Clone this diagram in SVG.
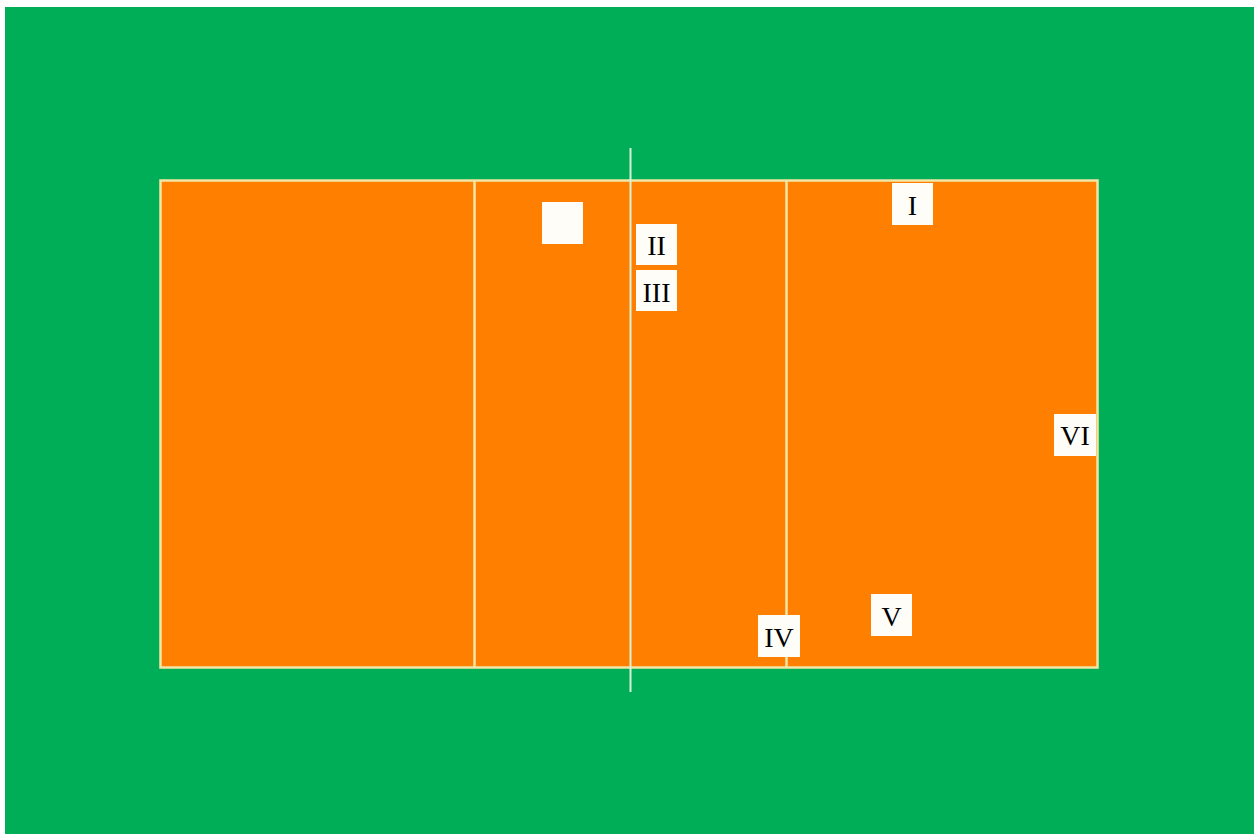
<svg xmlns="http://www.w3.org/2000/svg" width="1254" height="834" viewBox="0 0 1254 834">
<style>
.line{stroke:#F2E6A6;stroke-width:2.5;fill:none}
.floor{fill:#FF8000}
.box{fill:#FFFDF8}
.lbl{font-family:"Liberation Serif",serif;font-size:28px;fill:#000;text-anchor:middle}
</style>
<rect x="0" y="0" width="1254" height="834" fill="#FFFFFF"/>
<rect x="5" y="7" width="1249" height="827" fill="#00AE57"/>
<g id="court">
<rect class="floor" x="160.5" y="180.5" width="937" height="487"/>
<rect class="line" x="160.5" y="180.5" width="937" height="487"/>
<line class="line" x1="474.5" y1="180.5" x2="474.5" y2="667.5"/>
<line class="line" x1="786.5" y1="180.5" x2="786.5" y2="667.5"/>
</g>
<g id="net">
<line x1="630.5" y1="148" x2="630.5" y2="692" stroke="#D8F4D8" stroke-width="2"/>
</g>
<g id="blank"><rect class="box" x="542" y="202" width="41" height="42"/></g>
<g id="p1"><rect class="box" x="892" y="183" width="41" height="42"/><text class="lbl" x="912.5" y="215">I</text></g>
<g id="p2"><rect class="box" x="636" y="224" width="41" height="41"/><text class="lbl" x="656.5" y="255">II</text></g>
<g id="p3"><rect class="box" x="636" y="270" width="41" height="41"/><text class="lbl" x="656.5" y="302">III</text></g>
<g id="p4"><rect class="box" x="758" y="615" width="42" height="42"/><text class="lbl" x="779" y="647">IV</text></g>
<g id="p5"><rect class="box" x="871" y="594" width="41" height="42"/><text class="lbl" x="891.5" y="626">V</text></g>
<g id="p6"><rect class="box" x="1054" y="414" width="42" height="42"/><text class="lbl" x="1075" y="445">VI</text></g>
</svg>
